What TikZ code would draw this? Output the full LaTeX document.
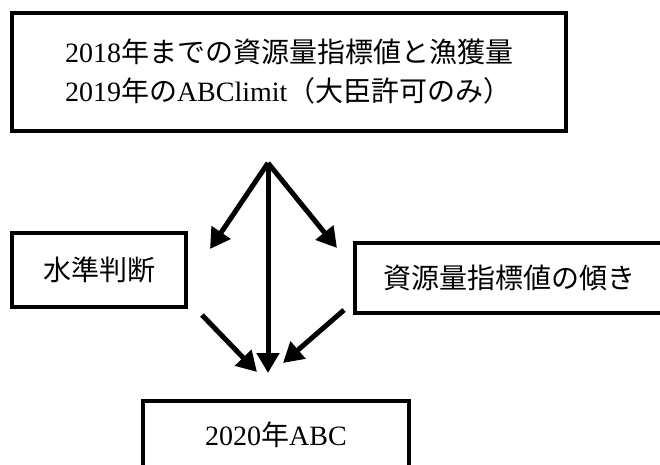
\documentclass[tikz,border=0pt]{standalone}
\usepackage{fontspec}
\setmainfont{Liberation Serif}
\newfontfamily\cjk{Noto Sans CJK JP}
\newcommand\jp[1]{{\cjk #1}}
\usetikzlibrary{arrows.meta}
\begin{document}
\begin{tikzpicture}[x=1pt,y=-1pt,
  box/.style={draw=black, line width=4pt, inner sep=0pt, align=left,
    font=\fontsize{28}{39}\selectfont},
  arr/.style={line width=5pt, -{Triangle[length=20pt,width=22pt]}}]
\useasboundingbox (0,0) rectangle (660,464);
\fill[white] (0,0) rectangle (660,464);
\node[box, minimum width=554pt, minimum height=118pt] (top) at (289,72)
  {2018\jp{年までの資源量指標値と漁獲量}\\2019\jp{年の}ABClimit\jp{（大臣許可のみ）}};
\node[box, minimum width=174pt, minimum height=74pt] (lvl) at (99,270) {\jp{水準判断}};
\node[box, minimum width=308pt, minimum height=70pt] (slope) at (509,278) {\jp{資源量指標値の傾き}};
\node[box, minimum width=266pt, minimum height=68pt] (abc) at (276,435) {2020\jp{年}ABC};
\coordinate (apex) at (268,163);
\coordinate (tl) at (210,249);
\coordinate (tr) at (337,248);
\coordinate (tv) at (268,373);
\coordinate (bls) at (202,315);
\coordinate (ble) at (257,372);
\coordinate (brs) at (344,310);
\coordinate (bre) at (283,363);
\draw[arr] (apex) -- (tl);
\draw[arr] (apex) -- (tr);
\draw[arr] (apex) -- (tv);
\draw[arr] (bls) -- (ble);
\draw[arr] (brs) -- (bre);
\end{tikzpicture}
\end{document}
